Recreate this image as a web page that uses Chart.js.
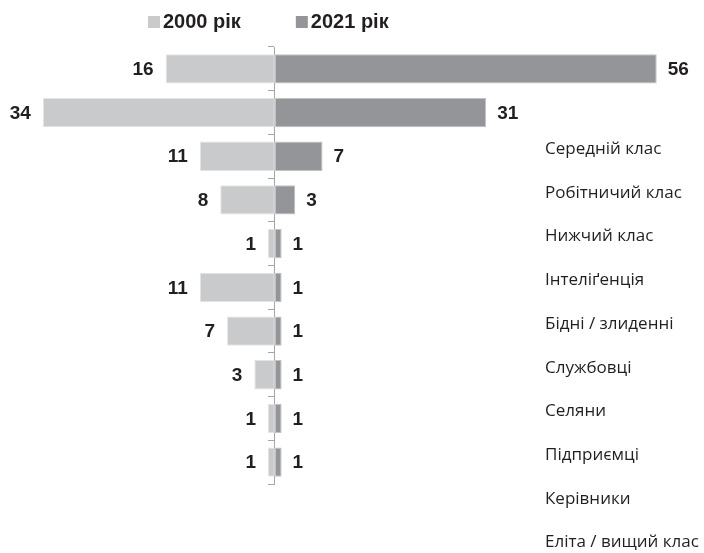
<!DOCTYPE html>
<html>
<head>
<meta charset="utf-8">
<script src="https://cdn.jsdelivr.net/npm/chart.js@4"></script>
<style>
  body { margin: 0; background: #fff; }
  #wrap { width: 704px; height: 553px; }
</style>
</head>
<body>
<div id="wrap"><canvas id="classes" width="704" height="553"></canvas></div>
<script>
const categories = [
  "Середній клас",
  "Робітничий клас",
  "Нижчий клас",
  "Інтеліґенція",
  "Бідні / злиденні",
  "Службовці",
  "Селяни",
  "Підприємці",
  "Керівники",
  "Еліта / вищий клас",
];
const seriesNames = ["2000 рік", "2021 рік"];
const values2000 = [16, 34, 11, 8, 1, 11, 7, 3, 1, 1];
const values2021 = [56, 31, 7, 3, 1, 1, 1, 1, 1, 1];

const TEXT = "#231f20";
const NUM_FONT = "bold 19px 'Liberation Sans', Arial, sans-serif";
const LEGEND_FONT = "bold 20px 'Liberation Sans', Arial, sans-serif";

// value labels next to each bar
const barLabels = {
  id: "barLabels",
  afterDatasetsDraw(chart) {
    const { ctx, data } = chart;
    ctx.save();
    ctx.font = NUM_FONT;
    ctx.fillStyle = TEXT;
    ctx.textBaseline = "middle";
    data.datasets.forEach((ds, di) => {
      chart.getDatasetMeta(di).data.forEach((bar, i) => {
        const v = Math.abs(ds.data[i]);
        if (ds.data[i] < 0) {
          ctx.textAlign = "right";
          ctx.fillText(v, bar.x - 12, bar.y + 1);
        } else {
          ctx.textAlign = "left";
          ctx.fillText(v, bar.x + 11, bar.y + 1);
        }
      });
    });
    ctx.restore();
  },
};

// category names on the right (shifted two rows down, as in the source)
const categoryNames = {
  id: "categoryNames",
  afterDraw(chart) {
    const { ctx, scales: { y } } = chart;
    ctx.save();
    ctx.font = "17px 'Open Sans', sans-serif";
    ctx.fillStyle = TEXT;
    ctx.textAlign = "left";
    ctx.textBaseline = "middle";
    categories.forEach((name, i) => {
      ctx.fillText(name, 545, y.getPixelForValue(i + 2) - 7);
    });
    ctx.restore();
  },
};

// legend at the top, left of centre
const topLegend = {
  id: "topLegend",
  afterDraw(chart) {
    const { ctx, data } = chart;
    ctx.save();
    ctx.font = LEGEND_FONT;
    ctx.textBaseline = "middle";
    ctx.textAlign = "left";
    let x = 148;
    data.datasets.forEach((ds) => {
      ctx.fillStyle = ds.backgroundColor;
      ctx.fillRect(x, 16, 12, 12);
      ctx.fillStyle = TEXT;
      ctx.fillText(ds.label, x + 15, 22);
      x += 15 + ctx.measureText(ds.label).width + 55;
    });
    ctx.restore();
  },
};

new Chart(document.getElementById("classes"), {
  type: "bar",
  data: {
    labels: categories,
    datasets: [
      {
        label: seriesNames[0],
        data: values2000.map((v) => -v),
        backgroundColor: "#c9cacc",
        borderColor: "#e4e4e5",
        borderWidth: 1,
        borderSkipped: false,
      },
      {
        label: seriesNames[1],
        data: values2021,
        backgroundColor: "#939598",
        borderColor: "#c2c3c5",
        borderWidth: 1,
        borderSkipped: false,
      },
    ],
  },
  options: {
    indexAxis: "y",
    responsive: false,
    animation: false,
    layout: { padding: { top: 47, bottom: 69, left: 2, right: 20 } },
    categoryPercentage: 1,
    barPercentage: 0.67,
    plugins: {
      legend: { display: false },
      tooltip: { enabled: false },
    },
    scales: {
      x: {
        display: false,
        stacked: true,
        min: -40,
        max: 60,
      },
      y: {
        stacked: true,
        position: { x: 0 },
        ticks: { display: false },
        grid: {
          drawOnChartArea: false,
          drawTicks: true,
          tickLength: 6,
          color: "#a6a6a6",
        },
        border: { color: "#a6a6a6", width: 1 },
      },
    },
  },
  plugins: [barLabels, categoryNames, topLegend],
});
</script>
</body>
</html>
